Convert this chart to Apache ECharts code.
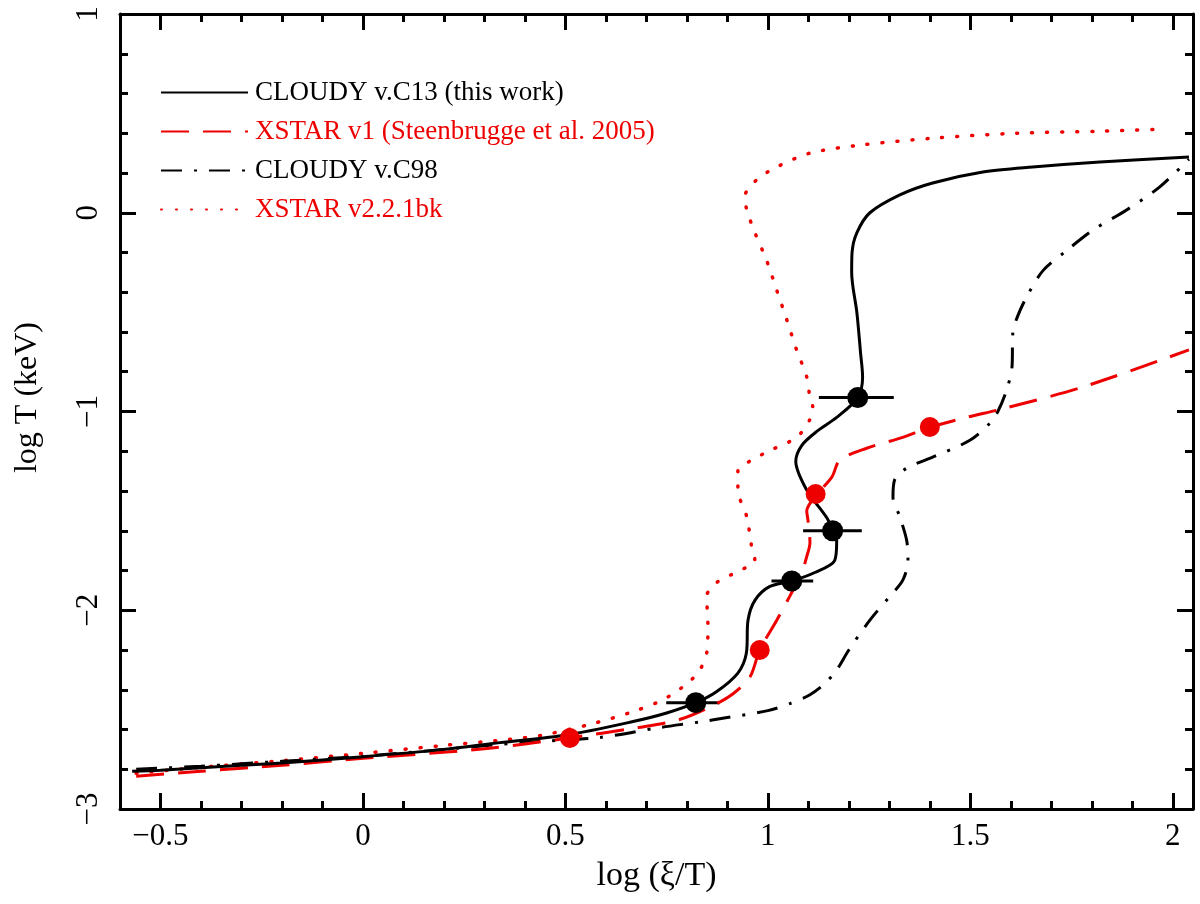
<!DOCTYPE html>
<html>
<head>
<meta charset="utf-8">
<script src="https://cdn.jsdelivr.net/npm/echarts@6/dist/echarts.min.js"></script>
<style>
html,body{margin:0;padding:0;background:#fff;}
#chart{width:1200px;height:904px;}
</style>
</head>
<body>
<div id="chart"></div>
<script>
// CLOUDY v.C13 (this work) - solid black
const c13X = [-0.57,-0.5,-0.3,-0.2,0,0.2,0.338,0.503,0.667,0.75,0.822,0.873,0.926,0.947,0.951,0.968,1.005,1.059,1.116,1.165,1.17,1.16,1.146,1.096,1.069,1.084,1.121,1.17,1.222,1.234,1.229,1.22,1.207,1.208,1.22,1.252,1.326,1.407,1.531,1.654,1.82,2.04];
const c13Y = [-2.81,-2.805,-2.78,-2.768,-2.737,-2.70,-2.666,-2.628,-2.56,-2.517,-2.465,-2.41,-2.316,-2.215,-2.05,-1.95,-1.88,-1.853,-1.81,-1.75,-1.65,-1.60,-1.536,-1.395,-1.25,-1.17,-1.10,-1.03,-0.93,-0.826,-0.706,-0.505,-0.30,-0.20,-0.10,0.0,0.09,0.15,0.205,0.23,0.255,0.28];

// XSTAR v1 (Steenbrugge et al. 2005) - red dashed
const x1X = [-0.56,-0.4,-0.2,0,0.3,0.5,0.68,0.782,0.864,0.914,0.956,0.98,1.022,1.054,1.084,1.096,1.104,1.099,1.096,1.12,1.158,1.178,1.244,1.333,1.397,1.49,1.573,1.778,2.04];
const x1Y = [-2.835,-2.81,-2.78,-2.745,-2.697,-2.645,-2.59,-2.55,-2.48,-2.42,-2.335,-2.20,-2.05,-1.93,-1.81,-1.73,-1.66,-1.546,-1.50,-1.42,-1.33,-1.244,-1.185,-1.13,-1.083,-1.03,-0.99,-0.877,-0.69];

// CLOUDY v.C98 - black dash-dot
const c98X = [-0.56,-0.4,-0.2,0,0.2,0.4,0.585,0.733,0.832,0.9,1.0,1.054,1.104,1.14,1.17,1.2,1.252,1.301,1.333,1.346,1.343,1.326,1.309,1.313,1.343,1.407,1.499,1.548,1.568,1.59,1.603,1.605,1.617,1.64,1.68,1.738,1.803,1.886,1.968,2.04];
const c98Y = [-2.80,-2.785,-2.76,-2.735,-2.70,-2.665,-2.64,-2.59,-2.562,-2.54,-2.505,-2.47,-2.425,-2.37,-2.30,-2.2,-2.05,-1.93,-1.85,-1.75,-1.65,-1.53,-1.43,-1.345,-1.285,-1.23,-1.145,-1.06,-1.0,-0.89,-0.776,-0.605,-0.52,-0.42,-0.29,-0.19,-0.087,0.014,0.13,0.27];

// XSTAR v2.2.1bk - red dotted
const x2X = [-0.56,-0.4,-0.2,0,0.2,0.36,0.445,0.568,0.667,0.741,0.8,0.832,0.849,0.852,0.849,0.874,0.931,0.968,0.96,0.948,0.926,0.926,0.955,1.012,1.071,1.104,1.111,1.104,1.096,1.071,1.047,1.022,0.997,0.968,0.948,0.943,0.972,1.022,1.104,1.227,1.407,1.614,1.82,1.973];
const x2Y = [-2.82,-2.79,-2.757,-2.72,-2.68,-2.65,-2.628,-2.57,-2.51,-2.45,-2.37,-2.30,-2.215,-2.08,-1.93,-1.86,-1.80,-1.75,-1.68,-1.53,-1.395,-1.30,-1.25,-1.19,-1.13,-1.04,-0.98,-0.93,-0.826,-0.69,-0.54,-0.39,-0.24,-0.10,0.014,0.08,0.165,0.23,0.30,0.34,0.375,0.40,0.41,0.42];

// Black points with horizontal error bars
const blackPtX = [0.822, 1.059, 1.16, 1.222];
const blackPtY = [-2.465, -1.853, -1.60, -0.93];
const blackErrLo = [0.749, 1.009, 1.087, 1.126];
const blackErrHi = [0.881, 1.112, 1.232, 1.311];

// Red points
const redPtX = [0.511, 0.98, 1.118, 1.40];
const redPtY = [-2.643, -2.20, -1.415, -1.078];

const seriesNames = ['CLOUDY v.C13 (this work)', 'XSTAR v1 (Steenbrugge et al. 2005)', 'CLOUDY v.C98', 'XSTAR v2.2.1bk'];
const xTitle = 'log (ξ/T)';
const yTitle = 'log T (keV)';

const RED = '#ee0000';
const FONT = '"Liberation Serif", "DejaVu Serif", serif';
const zip = (a, b) => a.map((v, i) => [v, b[i]]);
const fmt = v => String(Math.round(v * 100) / 100).replace('-', '\u2212');

const xMin = -0.6, xMax = 2.05, yMin = -3, yMax = 1;

function xAxisDef(pos, major) {
  const ax = {
    type: 'value', position: pos, min: xMin, max: xMax,
    axisLine: { show: major, onZero: false, lineStyle: { color: '#000', width: 3 } },
    axisTick: { inside: true, length: major ? 16 : 8, lineStyle: { color: '#000', width: 3 } },
    axisLabel: { show: false },
    splitLine: { show: false }
  };
  if (!major) ax.interval = 0.1;
  if (major && pos === 'bottom') {
    ax.axisLabel = { show: true, showMinLabel: false, showMaxLabel: false, margin: 12, fontSize: 31, fontFamily: FONT, color: '#000', formatter: fmt };
    ax.name = xTitle; ax.nameLocation = 'middle'; ax.nameGap = 50;
    ax.nameTextStyle = { fontSize: 34, fontFamily: FONT, color: '#000' };
  }
  return ax;
}
function yAxisDef(pos) {
  const ax = {
    type: 'value', position: pos, min: yMin, max: yMax, interval: 1,
    axisLine: { show: true, onZero: false, lineStyle: { color: '#000', width: 3 } },
    axisTick: { inside: true, length: 16, lineStyle: { color: '#000', width: 3 } },
    minorTick: { show: true, splitNumber: 5, length: 8, lineStyle: { color: '#000', width: 3 } },
    axisLabel: { show: false },
    splitLine: { show: false }
  };
  if (pos === 'left') {
    ax.axisLabel = { show: true, rotate: 90, margin: 16, fontSize: 31, fontFamily: FONT, color: '#000', formatter: fmt };
    ax.name = yTitle; ax.nameLocation = 'middle'; ax.nameGap = 76; ax.nameRotate = 90;
    ax.nameTextStyle = { fontSize: 32, fontFamily: FONT, color: '#000', padding: [0, 0, 0, 28] };
  }
  return ax;
}

const chart = echarts.init(document.getElementById('chart'), null, { renderer: 'canvas' });
chart.setOption({
  animation: false,
  backgroundColor: '#fff',
  grid: { left: 120, right: 7, top: 14, bottom: 95, containLabel: false, outerBoundsMode: 'none' },
  xAxis: [xAxisDef('bottom', true), xAxisDef('bottom', false), xAxisDef('top', true), xAxisDef('top', false)],
  yAxis: [yAxisDef('left'), yAxisDef('right')],
  legend: {
    orient: 'vertical', left: 160, top: 79, padding: 0,
    itemWidth: 87, itemHeight: 14, itemGap: 12,
    itemStyle: { opacity: 0 },
    textStyle: { fontFamily: FONT, fontSize: 27, padding: [0, 0, 0, 2] },
    data: [
      { name: seriesNames[0], textStyle: { color: '#000' } },
      { name: seriesNames[1], textStyle: { color: RED } },
      { name: seriesNames[2], textStyle: { color: '#000' } },
      { name: seriesNames[3], textStyle: { color: RED } }
    ]
  },
  series: [
    { name: seriesNames[3], type: 'line', data: zip(x2X, x2Y), symbol: 'none', smooth: 0.3,
      lineStyle: { color: RED, width: 3.5, type: [1, 14], cap: 'round' }, itemStyle: { color: RED } },
    { name: seriesNames[2], type: 'line', data: zip(c98X, c98Y), symbol: 'none', smooth: 0.3,
      lineStyle: { color: '#000', width: 3, type: [21, 12, 3, 12] }, itemStyle: { color: '#000' } },
    { name: seriesNames[1], type: 'line', data: zip(x1X, x1Y), symbol: 'none', smooth: 0.3,
      lineStyle: { color: RED, width: 3, type: [28, 14] }, itemStyle: { color: RED } },
    { name: seriesNames[0], type: 'line', data: zip(c13X, c13Y), symbol: 'none', smooth: 0.3,
      lineStyle: { color: '#000', width: 3, type: 'solid' }, itemStyle: { color: '#000' } },
    { name: 'errbars', type: 'custom',
      data: blackPtY.map((y, i) => [blackPtX[i], y, blackErrLo[i], blackErrHi[i]]),
      encode: { x: [0, 2, 3], y: 1 },
      renderItem: function (params, api) {
        const y = api.value(1);
        const p1 = api.coord([api.value(2), y]);
        const p2 = api.coord([api.value(3), y]);
        return { type: 'line', shape: { x1: p1[0], y1: p1[1], x2: p2[0], y2: p2[1] }, style: { stroke: '#000', lineWidth: 3 } };
      }, z: 3 },
    { name: 'redPoints', type: 'scatter', data: zip(redPtX, redPtY), symbol: 'circle', symbolSize: 20,
      itemStyle: { color: RED, opacity: 1 }, z: 4 },
    { name: 'blackPoints', type: 'scatter', data: zip(blackPtX, blackPtY), symbol: 'circle', symbolSize: 21,
      itemStyle: { color: '#000', opacity: 1 }, z: 5 }
  ]
});
</script>
</body>
</html>
